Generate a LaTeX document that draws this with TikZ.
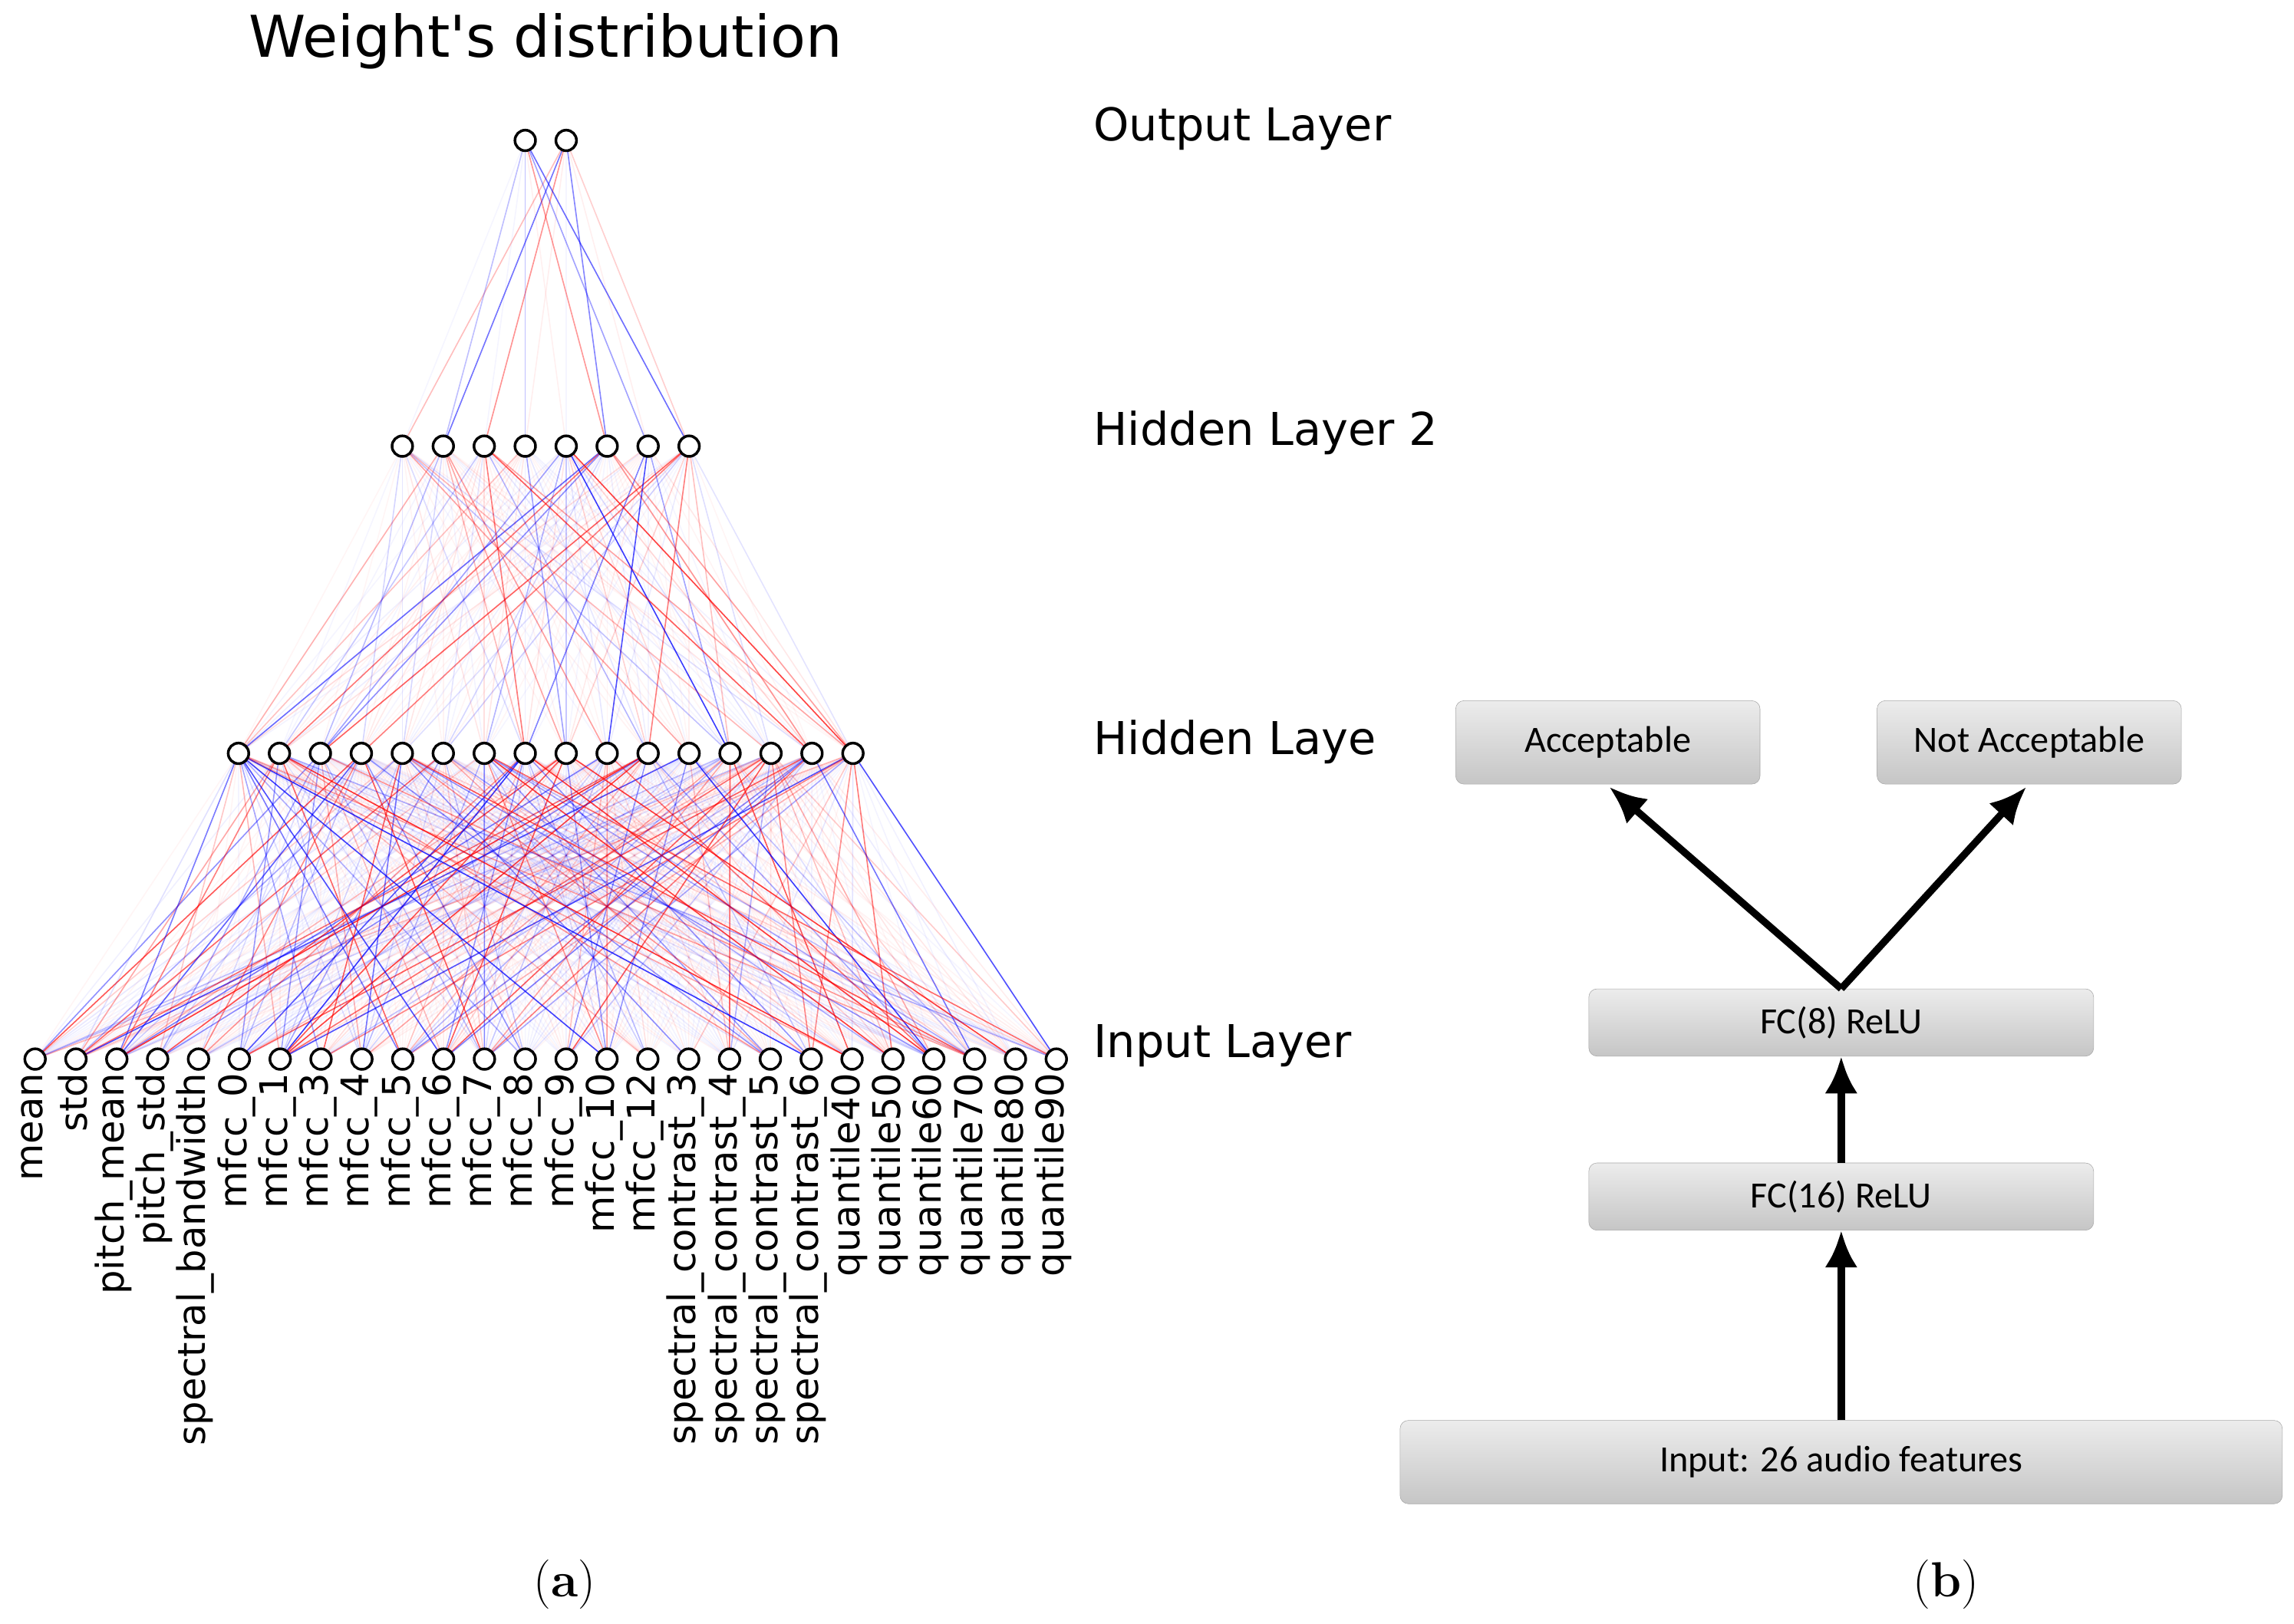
\documentclass[tikz,border=0pt]{standalone}
\usepackage{fontspec}
\usetikzlibrary{arrows.meta}
\newfontfamily\dv{DejaVu Sans}
\newfontfamily\cb{Carlito}
\begin{document}
\begin{tikzpicture}[x=0.05cm,y=-0.05cm,
  neu/.style={circle,draw=black,line width=2.6pt,minimum size=20pt,inner sep=0pt,fill=white},
  lay/.style={anchor=west,font=\dv\fontsize{44}{50}\selectfont},
  inl/.style={anchor=east,rotate=90,font=\dv\fontsize{37}{40}\selectfont,inner sep=2pt},
  box/.style={draw=gray!70,rounded corners=8pt,top color=gray!15,bottom color=gray!45,font=\cb\fontsize{36}{40}\selectfont},
  arr/.style={-{Latex[length=36pt,width=32pt]},line width=7pt,black}]
\useasboundingbox (0,0) rectangle (1568,1110);
\pgfmathsetseed{7}
\foreach[count=\i] \t in {mean,std,pitch\_mean,pitch\_std,spectral\_bandwidth,mfcc\_0,mfcc\_1,mfcc\_3,mfcc\_4,mfcc\_5,mfcc\_6,mfcc\_7,mfcc\_8,mfcc\_9,mfcc\_10,mfcc\_12,spectral\_contrast\_3,spectral\_contrast\_4,spectral\_contrast\_5,spectral\_contrast\_6,quantile40,quantile50,quantile60,quantile70,quantile80,quantile90}{
  \coordinate (i\i) at ({24+(\i-1)*27.92},724);
  \node[inl] (t\i) at ({24+(\i-1)*27.92-2},732) {\t};
}
\foreach \i in {1,...,16}{\coordinate (h\i) at ({163+(\i-1)*28},515);}
\foreach \i in {1,...,8}{\coordinate (g\i) at ({275+(\i-1)*28},305);}
\coordinate (o1) at (359,96); \coordinate (o2) at (387,96);
\def\edge#1#2{\pgfmathsetmacro\c{rnd}\pgfmathsetmacro\op{0.04+0.75*rnd^5}%
  \ifdim\c pt>0.45pt\def\col{red}\else\def\col{blue}\fi
  \draw[\col,line width=1.2pt,opacity=\op] (#1) -- (#2);}
\foreach \a in {1,...,26}{\foreach \b in {1,...,16}{\edge{i\a}{h\b}}}
\foreach \a in {1,...,16}{\foreach \b in {1,...,8}{\edge{h\a}{g\b}}}
\foreach \a in {1,...,8}{\foreach \b in {1,2}{\edge{g\a}{o\b}}}
\foreach \a in {1,...,26}{\node[neu] (n\a) at (i\a) {};}
\foreach \a in {1,...,16}{\node[neu] (m\a) at (h\a) {};}
\foreach \a in {1,...,8}{\node[neu] (k\a) at (g\a) {};}
\node[neu] (p1) at (o1) {}; \node[neu] (p2) at (o2) {};
\node[font=\dv\fontsize{56}{64}\selectfont] (title) at (373,28) {Weight's distribution};
\node[lay] (l1) at (745,88) {Output Layer};
\node[lay] (l2) at (745,296) {Hidden Layer 2};
\node[lay] (l3) at (745,507) {Hidden Laye};
\node[lay] (l4) at (745,715) {Input Layer};
\node[box,minimum width=208*0.05cm,minimum height=57*0.05cm] (acc) at (1099,507.5) {Acceptable};
\node[box,minimum width=208*0.05cm,minimum height=57*0.05cm] (nacc) at (1387,507.5) {Not Acceptable};
\node[box,minimum width=345*0.05cm,minimum height=46*0.05cm] (fc8) at (1258.5,699) {FC(8) ReLU};
\node[box,minimum width=345*0.05cm,minimum height=46*0.05cm] (fc16) at (1258.5,818) {FC(16) ReLU};
\node[box,minimum width=603*0.05cm,minimum height=57*0.05cm] (inp) at (1258.5,999.5) {Input: 26 audio features};
\draw[arr] (inp.north) -- (fc16.south);
\draw[arr] (fc16.north) -- (fc8.south);
\draw[arr] (fc8.north) -- (1100,538);
\draw[arr] (fc8.north) -- (1385,538);
\node[font=\fontsize{48}{54}\selectfont] (ca) at (386,1083) {(\textbf{a})};
\node[font=\fontsize{48}{54}\selectfont] (cb) at (1330,1083) {(\textbf{b})};
\end{tikzpicture}
\end{document}
